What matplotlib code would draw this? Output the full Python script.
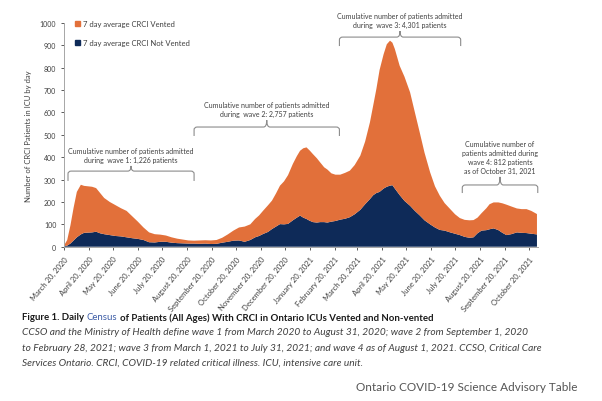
import matplotlib
matplotlib.use("Agg")
import matplotlib.pyplot as plt
import matplotlib.dates as mdates
import numpy as np
import pandas as pd
from matplotlib.patches import Patch, PathPatch
from matplotlib.path import Path

plt.rcParams["font.family"] = ["Lato", "DejaVu Sans"]

ORANGE = "#E2703A"
NAVY = "#0E2A58"
GREY = "#8c8c8c"

start = pd.Timestamp("2020-03-20")

day_offsets = [
    0, 4, 8, 12, 16, 21, 25, 30, 35, 40, 45, 50, 57, 64, 71, 78, 85, 92, 99,
    106, 113, 120, 127, 134, 141, 148, 155, 162, 169, 176, 183, 190, 197, 204,
    211, 218, 225, 232, 238, 243, 248, 254, 259, 264, 269, 274, 279, 285, 290,
    294, 298, 302, 306, 310, 315, 319, 324, 328, 333, 338, 344, 350, 356, 362,
    369, 375, 381, 385, 389, 393, 398, 402, 406, 409, 412, 418, 424, 431, 437,
    443, 449, 456, 462, 468, 474, 481, 487, 493, 499, 505, 510, 515, 520, 526,
    530, 535, 541, 546, 551, 557, 564, 570, 576, 582, 589,
]
not_vented = [
    2, 5, 14, 28, 42, 55, 62, 63, 64, 67, 60, 56, 52, 48, 46, 42, 38, 35, 30,
    20, 19, 22, 22, 18, 16, 15, 14, 14, 13, 14, 12, 13, 18, 22,
    27, 28, 22, 30, 42, 48, 57, 66, 79, 90, 101, 100, 102, 118, 130,
    139, 130, 124, 116, 110, 108, 110, 110, 108, 112, 115, 121, 125, 132, 145,
    165, 190, 213, 230, 240, 245, 260, 268, 273, 275, 260, 231, 205, 183, 160,
    140, 118, 100, 86, 75, 72, 64, 58, 52, 44, 40, 42, 60, 72, 74,
    78, 82, 74, 62, 52, 56, 64, 62, 61, 58, 55,
]
vented = [
    3, 25, 81, 147, 203, 222, 210, 207, 204, 195, 180, 162, 148, 138, 126, 118, 98, 77, 56,
    44, 37, 32, 28, 24, 20, 17, 14, 13, 15, 15, 16, 17, 22, 33,
    45, 58, 68, 70, 82, 92, 104, 119, 127, 148, 172, 192, 218, 252, 275,
    290, 310, 320, 314, 304, 287, 267, 245, 237, 216, 207, 201, 205, 208, 220,
    242, 280, 343, 400, 465, 545, 600, 637, 648, 637, 624, 578, 555, 507, 440,
    371, 302, 232, 184, 153, 123, 104, 87, 76, 76, 78, 77, 70, 78, 98,
    112, 116, 124, 132, 136, 124, 107, 106, 107, 102, 91,
]

legend_labels = ["7 day average CRCI Vented", "7 day average CRCI Not Vented"]
y_ticks = [0, 100, 200, 300, 400, 500, 600, 700, 800, 900, 1000]

# wave brackets: (start, end, text)
waves = [
    ("2020-03-25", "2020-08-29",
     "Cumulative number of patients admitted\nduring  wave 1: 1,226 patients"),
    ("2020-08-29", "2021-02-26",
     "Cumulative number of patients admitted\nduring  wave 2: 2,757 patients"),
    ("2021-02-26", "2021-07-27",
     "Cumulative number of patients admitted\nduring  wave 3: 4,301 patients"),
    ("2021-07-29", "2021-10-31",
     "Cumulative number of\npatients admitted during\nwave 4: 812 patients\nas of October 31, 2021"),
]
# (bracket level, end drop, tip rise, text baseline) in data units
brace_y = [(338, 294, 361, 372), (535, 495, 566, 580), (937, 897, 964, 978), (276, 240, 312, 325)]

dates = start + pd.to_timedelta(day_offsets, unit="D")


def brace(ax, x0, x1, y, y_end, y_tip):
    x0 = mdates.date2num(pd.Timestamp(x0))
    x1 = mdates.date2num(pd.Timestamp(x1))
    xm = (x0 + x1) / 2
    rx, ry = 4, 12
    verts = [
        (x0, y_end), (x0, y - ry),
        (x0, y), (x0 + rx, y),
        (xm - rx, y),
        (xm, y), (xm, y_tip),
        (xm, y), (xm + rx, y),
        (x1 - rx, y),
        (x1, y), (x1, y - ry),
        (x1, y_end),
    ]
    codes = [
        Path.MOVETO, Path.LINETO,
        Path.CURVE3, Path.CURVE3,
        Path.LINETO,
        Path.CURVE3, Path.CURVE3,
        Path.CURVE3, Path.CURVE3,
        Path.LINETO,
        Path.CURVE3, Path.CURVE3,
        Path.LINETO,
    ]
    ax.add_patch(PathPatch(Path(verts, codes), fill=False, ec=GREY, lw=0.8,
                           clip_on=False))
    return xm


fig = plt.figure(figsize=(6.02, 4.02), dpi=100)
ax = fig.add_axes([0.1063, 0.3838, 0.787, 0.5565])

ax.stackplot(dates, not_vented, vented, colors=[NAVY, ORANGE], lw=0)

ax.set_ylim(0, 1000)
ax.set_xlim(start, start + pd.Timedelta(days=590))
ax.set_yticks(y_ticks)
ax.tick_params(axis="y", labelsize=5, colors="#404040", length=2, width=0.6)

tick_dates = pd.date_range("2020-03-01", "2021-10-20", freq="MS") + pd.Timedelta(days=19)
ax.set_xticks(tick_dates)
ax.set_xticklabels([f"{d.strftime('%B')} {d.day}, {d.year}" for d in tick_dates],
                   rotation=50, ha="right", rotation_mode="anchor", fontsize=5.5,
                   color="#404040")
ax.tick_params(axis="x", length=2.5, width=0.6, colors="#404040")

for s in ["top", "right"]:
    ax.spines[s].set_visible(False)
for s in ["left", "bottom"]:
    ax.spines[s].set_color("#a6a6a6")
    ax.spines[s].set_linewidth(0.7)

ax.set_ylabel("Number of CRCI Patients in ICU by day", fontsize=5.5, color="#404040",
              labelpad=6)

handles = [Patch(color=ORANGE), Patch(color=NAVY)]
ax.legend(handles, legend_labels, loc="upper left", bbox_to_anchor=(0.015, 1.03),
          frameon=False, fontsize=5.5, handlelength=0.7, handleheight=0.7,
          handletextpad=0.4, labelspacing=1.6, borderpad=0, labelcolor="#404040")

for (w0, w1, label), (yb, ye, yt, ytxt) in zip(waves, brace_y):
    xm = brace(ax, w0, w1, yb, ye, yt)
    ax.text(xm, ytxt, label, ha="center", va="bottom", fontsize=5, color="#404040",
            linespacing=1.35, clip_on=False)

# caption, title line in three pieces so "Census" can be blue
y_title = 1 - 318 / 402
t0 = fig.text(22 / 602, y_title, "Figure 1. Daily ", fontsize=6.9, fontweight="bold",
              color="#1a1a1a", va="center")
fig.canvas.draw()
r = fig.canvas.get_renderer()
bb = t0.get_window_extent(r)
t1 = fig.text(bb.x1 / fig.bbox.width, y_title, "Census", fontsize=6.9, color="#3b5ba5",
              va="center")
bb1 = t1.get_window_extent(r)
fig.text(bb1.x1 / fig.bbox.width + 0.004, y_title,
         "of Patients (All Ages) With CRCI in Ontario ICUs Vented and Non-vented",
         fontsize=6.9, fontweight="bold", color="#1a1a1a", va="center")

caption = [
    "CCSO and the Ministry of Health define wave 1 from March 2020 to August 31, 2020; wave 2 from September 1, 2020",
    "to February 28, 2021; wave 3 from March 1, 2021 to July 31, 2021; and wave 4 as of August 1, 2021. CCSO, Critical Care",
    "Services Ontario. CRCI, COVID-19 related critical illness. ICU, intensive care unit.",
]
for i, line in enumerate(caption):
    fig.text(22 / 602, 1 - (333 + 15.3 * i) / 402, line, fontsize=7.3, style="italic",
             color="#404040", va="center")

fig.text(578 / 602, 1 - 388 / 402, "Ontario COVID-19 Science Advisory Table",
         fontsize=8.5, color="#555555", ha="right", va="center")

fig.savefig("out.png", dpi=100)
